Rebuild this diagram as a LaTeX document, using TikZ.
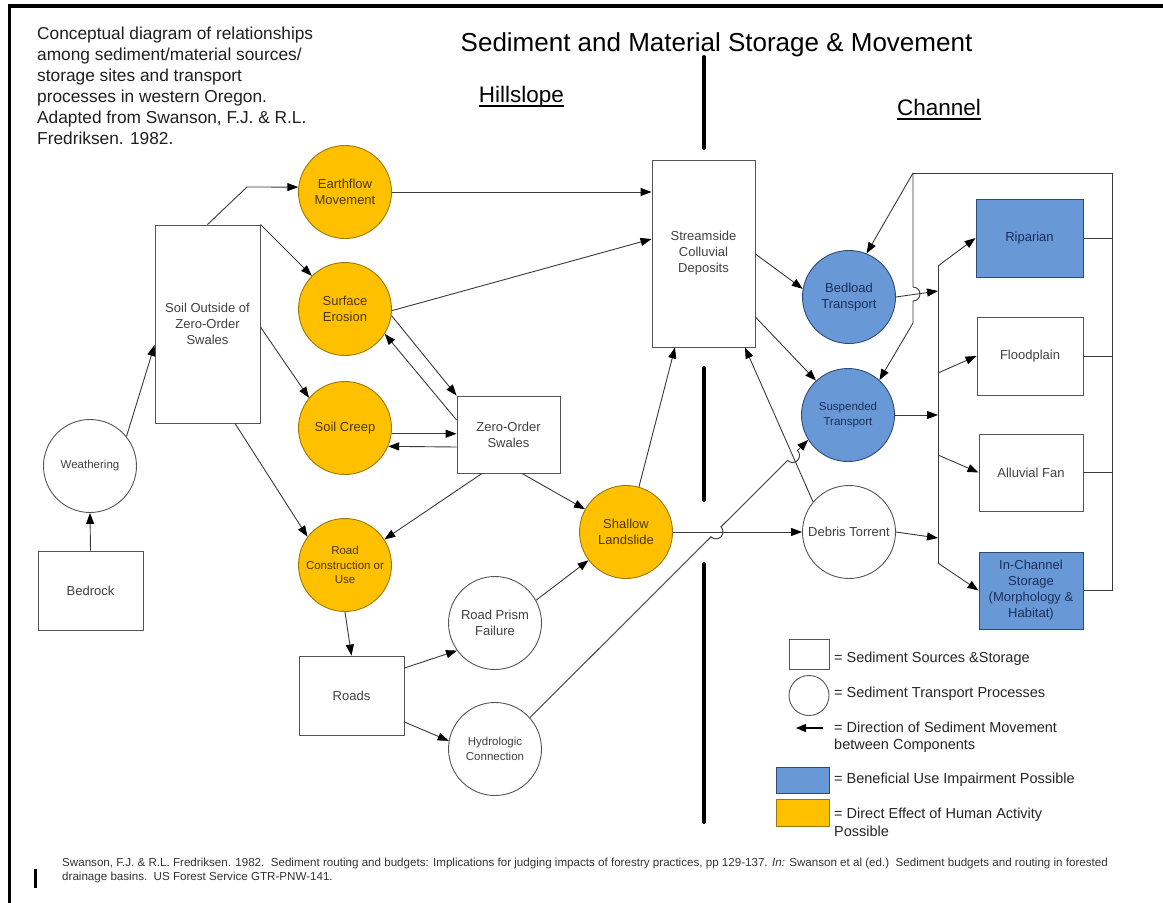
\documentclass[tikz,border=0pt]{standalone}
\usepackage{fontspec}
\setmainfont{Liberation Sans}
\usetikzlibrary{arrows.meta,calc}
\definecolor{orfill}{HTML}{FFC000}
\definecolor{ordraw}{HTML}{9C7800}
\definecolor{ortext}{HTML}{4A3800}
\definecolor{blfill}{HTML}{6898D6}
\definecolor{bldraw}{HTML}{2B4A7A}
\definecolor{bltext}{HTML}{1C2E5A}
\definecolor{lncol}{HTML}{3A3A3A}
\definecolor{bdcol}{HTML}{555555}
\definecolor{gtext}{HTML}{404040}
\begin{document}
\begin{tikzpicture}[x=1pt,y=-1pt,
  nfont/.style={font=\fontsize{13}{16}\selectfont},
  sfont/.style={font=\fontsize{11.5}{14.5}\selectfont},
  srcbox/.style={draw=bdcol, line width=0.9pt, fill=white, text=gtext, align=center, inner sep=2pt, nfont},
  proc/.style={circle, draw=bdcol, line width=0.9pt, fill=white, text=gtext, align=center, minimum size=93pt, inner sep=0pt, nfont},
  human/.style={fill=orfill, draw=ordraw, text=ortext},
  benef/.style={fill=blfill, draw=bldraw, text=bltext},
  arr/.style={draw=lncol, line width=0.9pt, -{Triangle[length=11pt,width=8pt,color=black]}},
  plain/.style={draw=lncol, line width=0.9pt},
  divider/.style={line width=4pt, line cap=round},
  legtext/.style={anchor=base west, inner sep=0pt, text=black!85, font=\fontsize{14.5}{17}\selectfont},
  swatch/.style={line width=1pt, inner sep=0pt}
]
\useasboundingbox (0,0) rectangle (1163,903);
\fill[white] (0,0) rectangle (1163,903);

% frame
\draw[line width=3.5pt] (1163,6) -- (9.5,6) -- (9.5,903);
\draw[line width=3pt] (35,869) -- (35,888);

% headings
\node[anchor=north west, align=left, inner sep=0pt, text=black!88, font=\fontsize{17.3}{21}\selectfont] (intro) at (37,26.6)
 {Conceptual diagram of relationships\\among sediment/material sources/\\storage sites and transport\\processes in western Oregon.\\Adapted from Swanson, F.J. \& R.L.\\Fredriksen. 1982.};
\node[anchor=base, inner sep=0pt, font=\fontsize{26}{30}\selectfont] (title) at (716.5,51) {Sediment and Material Storage \& Movement};
\node[anchor=base, inner sep=0pt, font=\fontsize{22.5}{27}\selectfont] (hill) at (521.5,102) {Hillslope};
\draw[line width=1.2pt] ([yshift=-4pt]hill.base west) -- ([yshift=-4pt]hill.base east);
\node[anchor=base, inner sep=0pt, font=\fontsize{22.5}{27}\selectfont] (chan) at (939,115) {Channel};
\draw[line width=1.2pt] ([yshift=-4pt]chan.base west) -- ([yshift=-4pt]chan.base east);

% divider
\coordinate (dv1) at (704,57);  \coordinate (dv2) at (704,148);
\coordinate (dv3) at (704,368); \coordinate (dv4) at (704,500);
\coordinate (dv5) at (704,564); \coordinate (dv6) at (704,822);
\draw[divider] (dv1) -- (dv2);
\draw[divider] (dv3) -- (dv4);
\draw[divider] (dv5) -- (dv6);

% boxes
\node[srcbox, minimum width=105pt, minimum height=198pt] (soil) at (207.5,324) {Soil Outside of\\Zero-Order\\Swales};
\node[srcbox, minimum width=105pt, minimum height=79pt] (bedrock) at (90.5,590.5) {Bedrock};
\node[srcbox, minimum width=103pt, minimum height=77pt] (swales) at (508.5,434.5) {Zero-Order\\Swales};
\node[srcbox, minimum width=105pt, minimum height=79pt] (roads) at (351.5,695.5) {Roads};
\node[srcbox, minimum width=103pt, minimum height=187pt] (stream) at (703.5,253.5) {Streamside\\Colluvial\\Deposits};
\node[srcbox, benef, minimum width=107pt, minimum height=78pt] (ripar) at (1029.5,238) {Riparian};
\node[srcbox, minimum width=106pt, minimum height=78pt] (flood) at (1030,356) {Floodplain};
\node[srcbox, minimum width=104pt, minimum height=77pt] (alluv) at (1031,472.5) {Alluvial Fan};
\node[srcbox, benef, minimum width=104pt, minimum height=77pt] (inchan) at (1031,590.5) {In-Channel\\Storage\\(Morphology \&\\Habitat)};

% circles
\node[proc, human] (earth) at (345,192) {Earthflow\\Movement};
\node[proc, human] (surf) at (345,309) {Surface\\Erosion};
\node[proc, human] (creep) at (345,428) {Soil Creep};
\node[proc, human, sfont] (road) at (345,565) {Road\\Construction or\\Use};
\node[proc, sfont] (weath) at (90,466) {Weathering};
\node[proc, human] (shallow) at (626,532) {Shallow\\Landslide};
\node[proc] (prism) at (495,623) {Road Prism\\Failure};
\node[proc, sfont] (hydro) at (495,749) {Hydrologic\\Connection};
\node[proc, benef] (bed) at (849,297) {Bedload\\Transport};
\node[proc, benef, sfont] (susp) at (848,415) {Suspended\\Transport};
\node[proc] (debris) at (849,532) {Debris Torrent};

% hillslope connectors
\draw[arr] (bedrock.north) -- (weath.south);
\draw[arr] (weath.39) -- ([yshift=-21pt]soil.west);
\coordinate (eb) at (247,187);
\draw[arr] (soil.north) -- (eb) -- (earth.174);
\draw[arr] (soil.north east) -- (surf.135);
\draw[arr] ([yshift=-3pt]soil.east) -- (creep.140);
\draw[arr] ([xshift=27.5pt]soil.south) -- (road.143);
\draw[arr] (earth.east) -- (earth.east -| stream.west);
\draw[arr] (surf.-2) -- ([yshift=14.5pt]stream.west);
\draw[arr] (surf.-8) -- (swales.north west);
\draw[arr] ([yshift=14.5pt]swales.west) -- (surf.-32);
\draw[arr] (creep.-7) -- (creep.-7 -| swales.west);
\draw[arr] ([yshift=-12.5pt]swales.west) -- (creep.-23);
\draw[arr] ([xshift=-26.5pt]swales.south) -- (road.33);
\draw[arr] ([xshift=13.5pt]swales.south) -- (shallow.151);
\draw[arr] (road.south) -- (roads.north);
\draw[arr] ([yshift=27.5pt]roads.east) -- (prism.216);
\draw[arr] ([yshift=-26.5pt]roads.east) -- (hydro.170);
\draw[arr] (prism.29) -- (shallow.217);
\draw[arr] (shallow.74) -- ([xshift=-28.5pt]stream.south);
\draw[arr] (shallow.east) -- (debris.west);
\draw[arr] (debris.140) -- ([xshift=41.5pt]stream.south);
\draw[arr] ([yshift=-0.5pt]stream.east) -- (bed.170);
\draw[arr] ([yshift=-63.5pt]stream.east) -- (susp.133);

% hydrologic connection with line hops
\draw[arr] (hydro.42) -- ($(hydro.42)!0.651!(susp.212)$) arc[start angle=135, end angle=-45, radius=7]
  -- ($(hydro.42)!0.926!(susp.212)$) arc[start angle=135, end angle=-45, radius=7] -- (susp.212);

% channel collector
\coordinate (colT) at (938,266);
\coordinate (colF) at (938,373);
\coordinate (colA) at (938,455);
\coordinate (colB) at (938,563);
\coordinate (colBed) at (938,291);
\coordinate (colDeb) at (938,538);
\draw[plain] (colT) -- (colB);
\draw[arr] (colT) -- (ripar.west);
\draw[arr] (colF) -- (flood.west);
\draw[arr] (colA) -- (alluv.west);
\draw[arr] (colB) -- (inchan.west);
\draw[arr] (bed.east) -- (colBed);
\draw[arr] (susp.east) -- (susp.east -| colT);
\draw[arr] (debris.east) -- (colDeb);

% feedback loop
\coordinate (fbTL) at (913,173);
\coordinate (fbTR) at (1112,173);
\coordinate (fbJ1) at (913,287);
\coordinate (fbJ2) at (913,323);
\draw[plain] (ripar.east) -- (ripar.east -| fbTR);
\draw[plain] (flood.east) -- (flood.east -| fbTR);
\draw[plain] (alluv.east) -- (alluv.east -| fbTR);
\draw[plain] (inchan.east) -- (inchan.east -| fbTR) -- (fbTR) -- (fbTL);
\draw[arr] (fbTL) -- (bed.68);
\draw[arr] (fbTL) -- (fbJ1) arc[start angle=-90, end angle=90, radius=7] -- (fbJ2) -- (susp.48);

% legend
\node[swatch, draw=bdcol, line width=0.9pt, minimum width=40pt, minimum height=30pt] (lgsq) at (809,654) {};
\node[swatch, draw=bdcol, line width=0.9pt, circle, minimum size=40pt] (lgci) at (809,695.5) {};
\coordinate (lgaS) at (823,728); \coordinate (lgaE) at (796,728);
\draw[line width=1.3pt, -{Triangle[length=10pt,width=8pt]}] (lgaS) -- (lgaE);
\node[swatch, fill=blfill, draw=bldraw, minimum width=53pt, minimum height=26pt] (lgbl) at (802.5,780) {};
\node[swatch, fill=orfill, draw=ordraw, minimum width=53pt, minimum height=27pt] (lgor) at (802.5,812.5) {};
\node[legtext] (lt1) at (834,662) {= Sediment Sources \&Storage};
\node[legtext] (lt2) at (834,697) {= Sediment Transport Processes};
\node[legtext] (lt3) at (834,732) {= Direction of Sediment Movement};
\node[legtext] (lt3b) at (834,749) {between Components};
\node[legtext] (lt4) at (834,783) {= Beneficial Use Impairment Possible};
\node[legtext] (lt5) at (834,818) {= Direct Effect of Human Activity};
\node[legtext] (lt5b) at (834,836) {Possible};

% footer
\node[anchor=base west, inner sep=0pt, text=black!80, font=\fontsize{11.6}{14}\selectfont] (ft1) at (62,866)
 {Swanson, F.J. \& R.L. Fredriksen. 1982.\ \ Sediment routing and budgets: Implications for judging impacts of forestry practices, pp 129-137. \textit{In:} Swanson et al (ed.)\ \ Sediment budgets and routing in forested};
\node[anchor=base west, inner sep=0pt, text=black!80, font=\fontsize{11.6}{14}\selectfont] (ft2) at (62,880)
 {drainage basins.\ \ US Forest Service GTR-PNW-141.};
\end{tikzpicture}
\end{document}
